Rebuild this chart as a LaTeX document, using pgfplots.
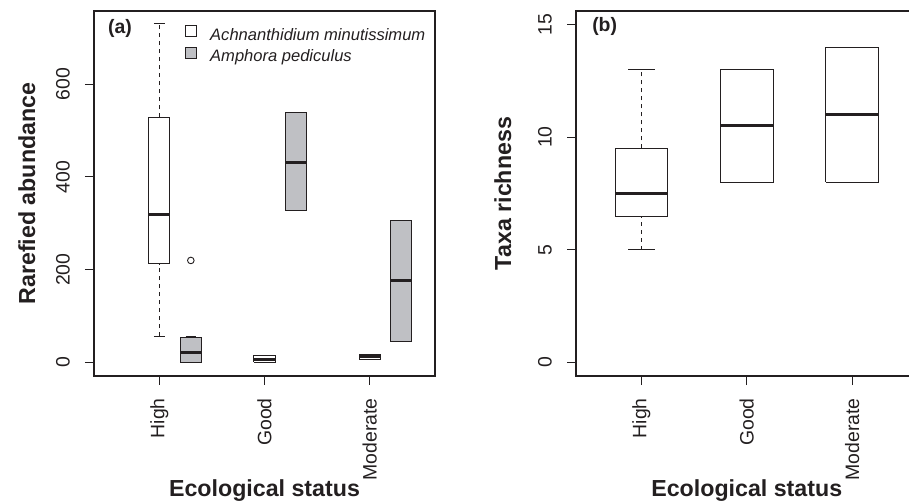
\documentclass[border=0pt]{standalone}
\usepackage{fontspec}
\setmainfont{Liberation Sans}
\usepackage{pgfplots}
\pgfplotsset{compat=1.18}

\definecolor{ink}{RGB}{35,31,32}
\definecolor{boxgrey}{RGB}{191,192,196}

\newcommand{\ticksize}{\fontsize{19.5}{22}\selectfont}
\newcommand{\labsize}{\bfseries\fontsize{23.3}{27}\selectfont}
\newcommand{\tagsize}{\bfseries\fontsize{19.5}{22}\selectfont}

% R-style box: pos, half width, lower whisker, q1, median, q3, upper whisker, fill
\newcommand{\rbox}[8]{%
  \pgfmathsetmacro\xa{#1-#2}\pgfmathsetmacro\xb{#1+#2}%
  \pgfmathsetmacro\ca{#1-#2/2}\pgfmathsetmacro\cb{#1+#2/2}%
  \addplot[ink, line width=1bp, dash pattern=on 4bp off 4bp, forget plot] coordinates {(#1,#3) (#1,#4)};
  \addplot[ink, line width=1bp, dash pattern=on 4bp off 4bp, forget plot] coordinates {(#1,#6) (#1,#7)};
  \addplot[ink, line width=1bp, forget plot] coordinates {(\ca,#3) (\cb,#3)};
  \addplot[ink, line width=1bp, forget plot] coordinates {(\ca,#7) (\cb,#7)};
  \addplot[draw=ink, line width=1bp, fill=#8, forget plot]
    coordinates {(\xa,#4) (\xb,#4) (\xb,#6) (\xa,#6) (\xa,#4)};
  \addplot[ink, line width=3bp, forget plot] coordinates {(\xa,#5) (\xb,#5)};
}

\pgfplotsset{
  rpanel/.style={
    scale only axis, width=341bp, height=365bp, anchor=south west,
    xmin=0.38, xmax=3.62,
    axis line style={ink, line width=1.1bp},
    tick style={ink, line width=1bp},
    major tick length=9bp, tick align=outside,
    xtick pos=left, ytick pos=left,
    xtick={1,2,3}, xticklabels={High,Good,Moderate},
    xticklabel style={rotate=90, anchor=east, inner sep=0pt, font=\ticksize, text=ink},
    yticklabel style={rotate=90, anchor=south, inner sep=0pt, font=\ticksize, text=ink},
    xticklabel shift=13bp, yticklabel shift=15bp,
    xlabel={Ecological status},
    xlabel style={at={(axis description cs:0.5,-0.3288)}, anchor=base, font=\labsize, text=ink, inner sep=0pt},
    ylabel style={anchor=base, font=\labsize, text=ink, inner sep=0pt},
  },
}

\begin{document}
\begin{tikzpicture}
% (a) rarefied abundance
\begin{axis}[rpanel, at={(94bp,126bp)},
    ymin=-29.2, ymax=758,
    ytick={0,200,400,600}, yticklabels={0,200,400,600},
    ylabel={Rarefied abundance},
    ylabel style={at={(axis description cs:-0.173,0.5)}},
    legend style={at={(0.2669,0.961)}, anchor=north west,
      draw=none, fill=none, inner sep=0pt, column sep=13bp, row sep=2.5bp,
      font=\itshape\fontsize{16.6}{19}\selectfont, text=ink,
      nodes={inner sep=0pt, text height=12bp, text depth=3.5bp}},
    legend cell align=left]
  \rbox{1}{0.1}{57}{213}{320}{529}{730}{white}
  \rbox{1.3}{0.1}{0}{0}{22}{53}{57}{boxgrey}
  \addplot[only marks, mark=o, mark size=3.3bp, ink, line width=0.9bp, forget plot]
    coordinates {(1.3,220)};
  \rbox{2}{0.1}{0}{0}{7}{16}{16}{white}
  \rbox{2.3}{0.1}{327}{327}{432}{539}{539}{boxgrey}
  \rbox{3}{0.1}{7}{7}{12}{17}{17}{white}
  \rbox{3.3}{0.1}{45}{45}{176}{307}{307}{boxgrey}
  \addlegendimage{legend image code/.code={\draw[ink, line width=1bp, fill=white] (0bp,-0.5bp) rectangle (11bp,10.5bp);}}
  \addlegendentry{Achnanthidium minutissimum}
  \addlegendimage{legend image code/.code={\draw[ink, line width=1bp, fill=boxgrey] (0bp,-0.5bp) rectangle (11bp,10.5bp);}}
  \addlegendentry{Amphora pediculus}
  \node[anchor=west, inner sep=0pt, font=\tagsize, text=ink]
    at (rel axis cs:0.041,0.953) {(a)};
\end{axis}
% (b) taxa richness
\begin{axis}[rpanel, at={(576bp,126bp)}, width=341.5bp,
    ymin=-0.6, ymax=15.6,
    ytick={0,5,10,15}, yticklabels={0,5,10,15},
    ylabel={Taxa richness},
    ylabel style={at={(axis description cs:-0.19,0.5)}}]
  \rbox{1}{0.25}{5}{6.5}{7.5}{9.5}{13}{white}
  \rbox{2}{0.25}{8}{8}{10.5}{13}{13}{white}
  \rbox{3}{0.25}{8}{8}{11}{14}{14}{white}
  \node[anchor=west, inner sep=0pt, font=\tagsize, text=ink]
    at (rel axis cs:0.047,0.957) {(b)};
\end{axis}
\pgfresetboundingbox
\path (0bp,0bp) rectangle (909bp,502bp);
\end{tikzpicture}
\end{document}
